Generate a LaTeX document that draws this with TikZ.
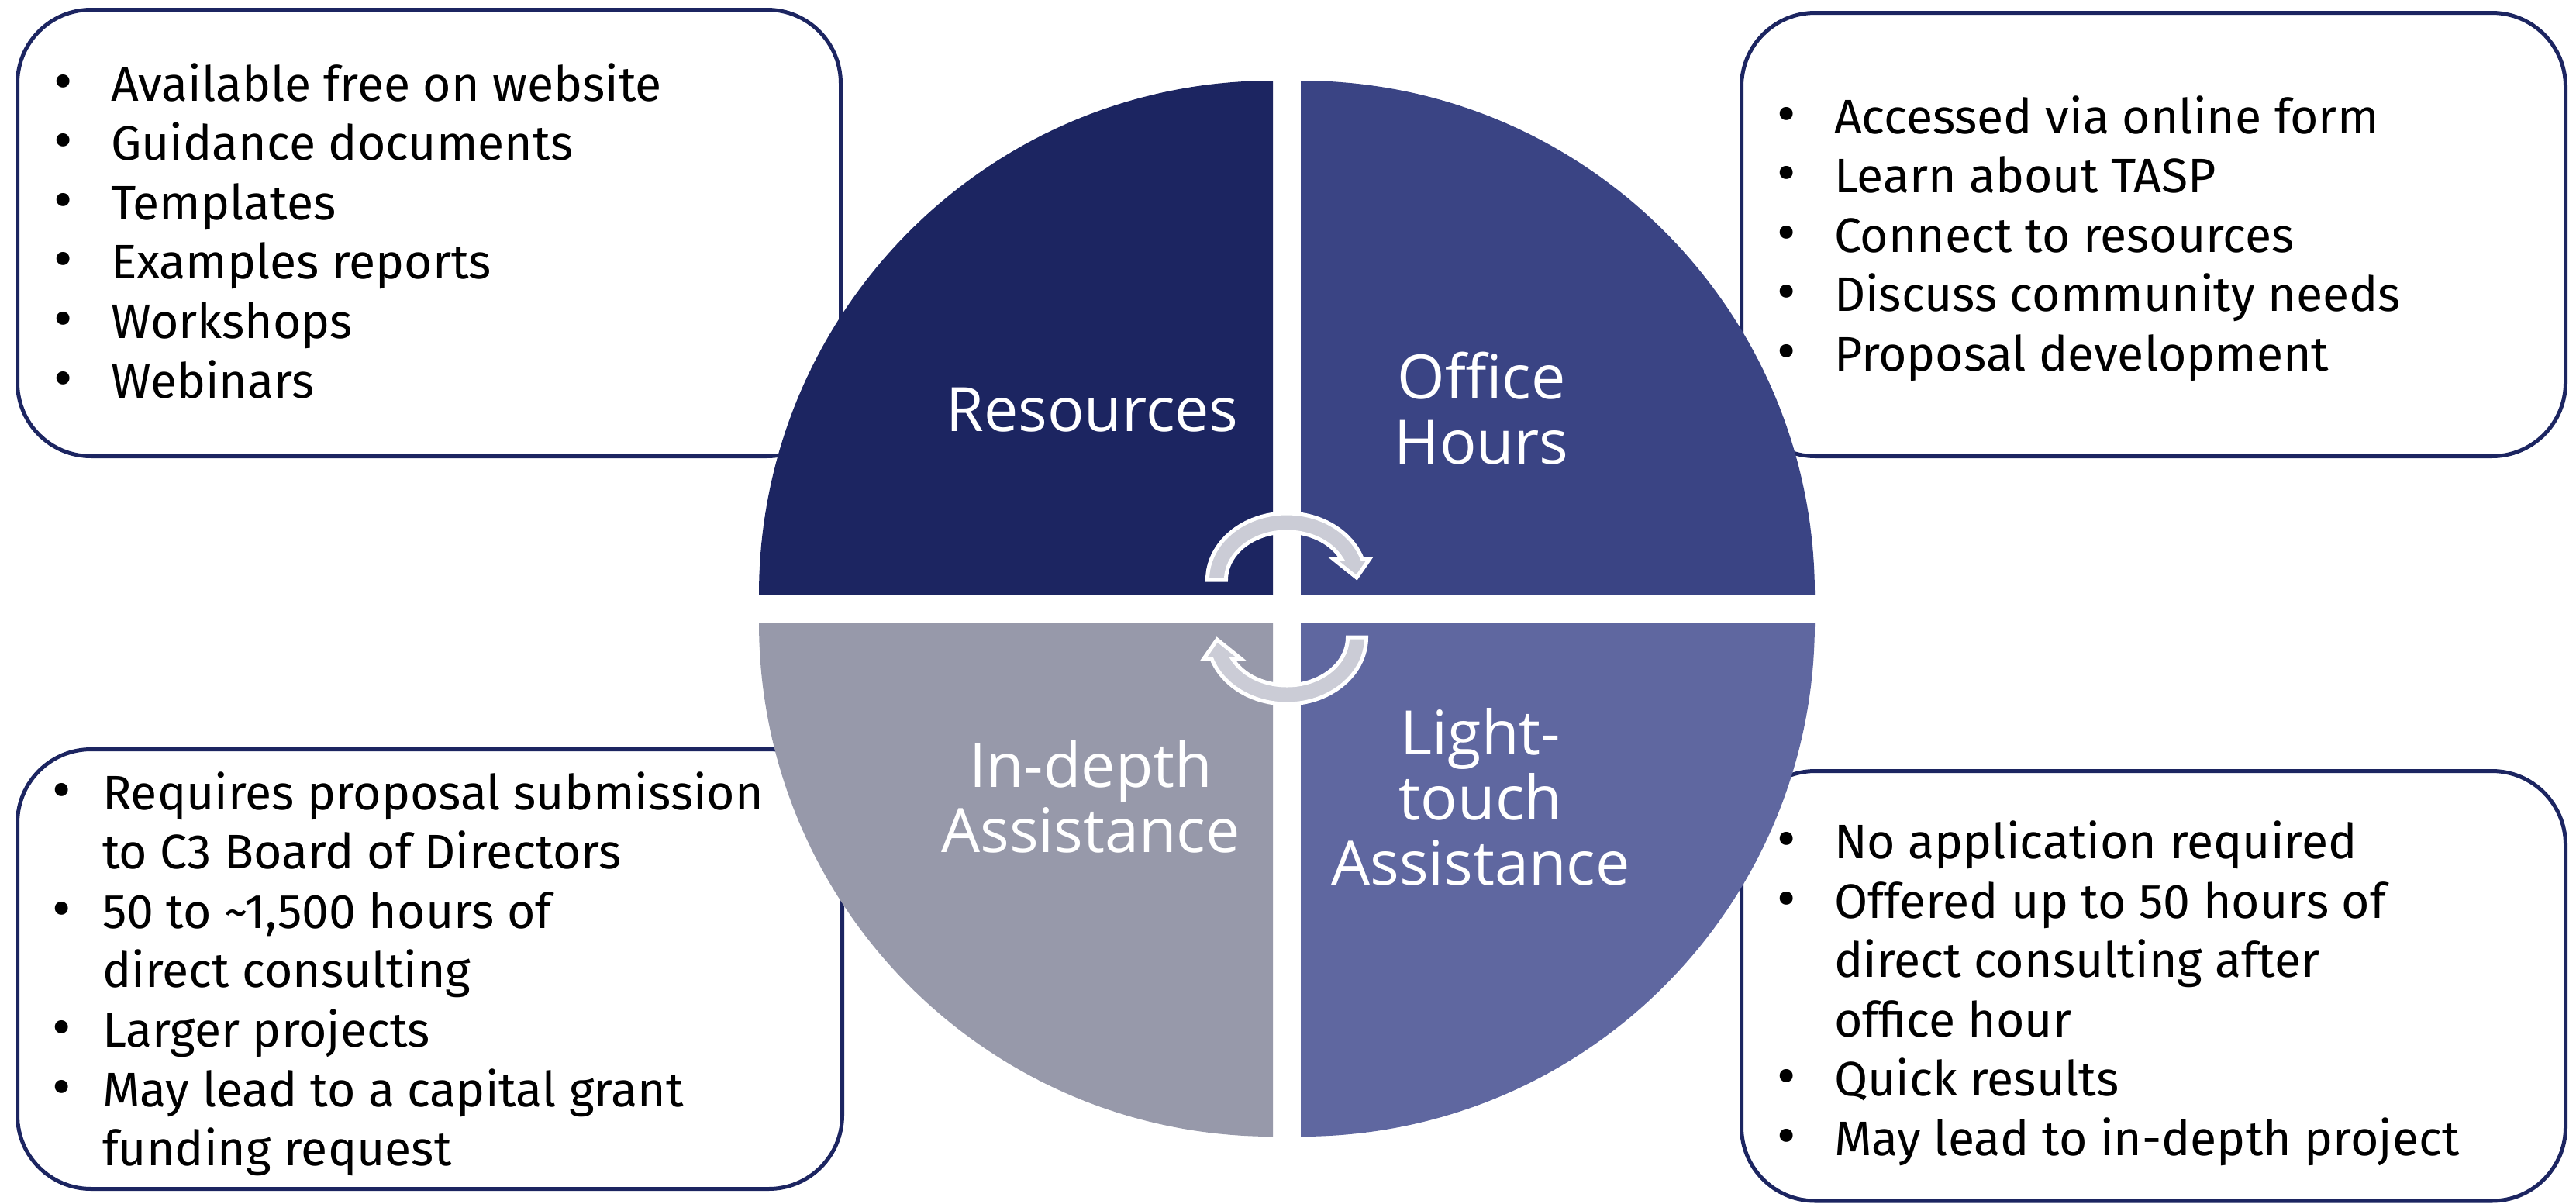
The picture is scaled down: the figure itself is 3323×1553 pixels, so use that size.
\documentclass[tikz,border=0pt]{standalone}
\usepackage{fontspec}
\setmainfont{Fira Sans}
\newfontfamily\labelfont{Open Sans}
\definecolor{qA}{HTML}{1C2561}
\definecolor{qB}{HTML}{3A4484}
\definecolor{qC}{HTML}{5F67A0}
\definecolor{qD}{HTML}{9799AA}
\definecolor{arrowgray}{HTML}{CBCCD6}
\definecolor{boxline}{HTML}{1C2561}
\newcommand\bigbul{\scalebox{1.2}{\textbullet}}
\newcommand\bulA{\makebox[74pt][l]{\bigbul}}
\newcommand\indA{\hspace*{74pt}}
\newcommand\bulB{\makebox[65pt][l]{\bigbul}}
\newcommand\indB{\hspace*{65pt}}
\begin{document}
\begin{tikzpicture}[x=1pt,y=-1pt,
  infobox/.style={draw=boxline,line width=5pt,rounded corners=95pt,fill=white},
  qlabel/.style={text=white,font=\labelfont\fontsize{79}{84}\selectfont,align=center,inner sep=0pt},
  bodytext/.style={anchor=base west,inner sep=0pt,outer sep=0pt,font=\fontsize{62.5}{76.6}\selectfont},
  cyclearrow/.style={fill=arrowgray,draw=white,line width=5pt,line join=miter}
]
\useasboundingbox (0,0) rectangle (3323,1553);
% info boxes
\draw[infobox] (22.5,12.5) rectangle (1084.5,588.5);
\draw[infobox] (2246.5,16.5) rectangle (3309.5,588.5);
\draw[infobox] (22.5,966.5) rectangle (1086.5,1533.5);
\draw[infobox] (2246.5,994.5) rectangle (3309.5,1549);
% box texts
\node[bodytext] (tTL) at (69,130) {\begin{tabular}[t]{@{}l@{}}
\bulA Available free on website\\
\bulA Guidance documents\\
\bulA Templates\\
\bulA Examples reports\\
\bulA Workshops\\
\bulA Webinars
\end{tabular}};
\node[bodytext] (tTR) at (2292,172) {\begin{tabular}[t]{@{}l@{}}
\bulA Accessed via online form\\
\bulA Learn about TASP\\
\bulA Connect to resources\\
\bulA Discuss community needs\\
\bulA Proposal development
\end{tabular}};
\node[bodytext] (tBL) at (67,1044) {\begin{tabular}[t]{@{}l@{}}
\bulB Requires proposal submission\\
\indB to C3 Board of Directors\\
\bulB 50 to \textasciitilde1,500 hours of\\
\indB direct consulting\\
\bulB Larger projects\\
\bulB May lead to a capital grant\\
\indB funding request
\end{tabular}};
\node[bodytext] (tBR) at (2292,1107.5) {\begin{tabular}[t]{@{}l@{}}
\bulA No application required\\
\bulA Offered up to 50 hours of\\
\indA direct consulting after\\
\indA office hour\\
\bulA Quick results\\
\bulA May lead to in-depth project
\end{tabular}};
% quadrants
\fill[qA] (1642,767) -- ++(-663,0) arc[start angle=180,end angle=270,radius=663] -- cycle;
\fill[qB] (1678,767) -- ++(0,-663) arc[start angle=270,end angle=360,radius=663] -- cycle;
\fill[qC] (1678,803) -- ++(663,0) arc[start angle=0,end angle=90,radius=663] -- cycle;
\fill[qD] (1642,803) -- ++(0,663) arc[start angle=90,end angle=180,radius=663] -- cycle;
% labels
\node[qlabel] (lRes) at (1409,529) {Resources};
\node[qlabel] (lOff) at (1911,527) {Office\\Hours};
\node[qlabel] (lInd) at (1407,1028) {In-depth\\Assistance};
\node[qlabel] (lLig) at (1910,1028) {Light-\\touch\\Assistance};
% cycle arrows
\filldraw[cyclearrow] (1557.5,748) arc[start angle=180,end angle=341.35,x radius=102.5,y radius=86]
  -- (1767,720.5) -- (1750,745) -- (1719.5,720.5)
  -- (1730.35,720.5) arc[start angle=333.67,end angle=180,x radius=78.5,y radius=62] -- cycle;
\begin{scope}[rotate around={180:(1660,785)}]
\filldraw[cyclearrow] (1557.5,748) arc[start angle=180,end angle=341.35,x radius=102.5,y radius=86]
  -- (1767,720.5) -- (1750,745) -- (1719.5,720.5)
  -- (1730.35,720.5) arc[start angle=333.67,end angle=180,x radius=78.5,y radius=62] -- cycle;
\end{scope}
\end{tikzpicture}
\end{document}
